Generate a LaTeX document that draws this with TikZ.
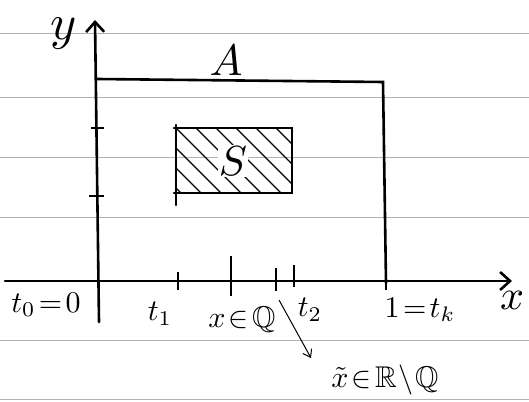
\documentclass[tikz,border=0pt]{standalone}
\usepackage{amssymb}
\usetikzlibrary{arrows.meta}
\begin{document}
\begin{tikzpicture}[x=1pt,y=-1pt,
  rule/.style={gray!60,line width=0.8pt},
  pen/.style={black,line width=2.6pt,line cap=round},
  axis/.style={pen,-{Straight Barb[length=10pt,width=18pt]}},
  tickmark/.style={black,line width=2.6pt},
  hatch/.style={black,line width=1.1pt},
  lbl/.style={scale=3,inner sep=0pt}]
\useasboundingbox (0,0) rectangle (529,401);
% ruled paper lines
\foreach \yy in {33,97,157,217,340,399}
  \draw[rule] (0,\yy) -- (529,\yy);
% axes
\coordinate (xs) at (5,281);
\coordinate (xe) at (512,281);
\coordinate (ys) at (99,322);
\coordinate (ye) at (95,20);
\draw[axis] (xs) -- (xe);
\draw[axis] (ys) -- (ye);
\node[scale=5,inner sep=0pt] (ylab) at (64,34) {$y$};
\node[scale=4.2,inner sep=0pt] (xlab) at (512,300) {$x$};
% big rectangle A
\coordinate (a1) at (97,79);
\coordinate (a2) at (383,82);
\coordinate (a3) at (386,283);
\draw[pen] (a1) -- (a2) -- (a3);
\node[scale=4.4,inner sep=0pt] (Alab) at (226,60) {$A$};
% y ticks
\draw[tickmark] (91,128) -- (104,128);
\draw[tickmark] (89,196) -- (104,196);
% small rectangle S
\coordinate (s1) at (176,128);
\coordinate (s2) at (292,193);
\begin{scope}
\clip (s1) rectangle (s2);
\foreach \k in {-60,-40,...,120}
  \draw[hatch] (176+\k,128) -- ++(70,70);
\end{scope}
\draw[pen] (176,125) -- (176,205);
\draw[pen] (174,128) -- (292,128) -- (292,193) -- (174,193);
\node[scale=4.2,fill=white,inner sep=0.3pt] (Slab) at (233,161) {$S$};
% x ticks
\draw[tickmark] (178,272) -- (178,290);
\draw[tickmark] (231,256) -- (231,296);
\draw[tickmark] (276,268) -- (276,291);
\draw[tickmark] (294,265) -- (294,287);
\draw[tickmark] (386,276) -- (386,290);
% labels
\node[lbl] (t0) at (46,305) {$t_0\!=\!0$};
\node[lbl] (t1) at (160,314) {$t_1$};
\node[lbl] (xq) at (242,320) {$x\!\in\!\mathbb{Q}$};
\node[lbl] (t2) at (310,310) {$t_2$};
\node[lbl] (tk) at (420,310) {$1\!=\!t_k$};
\node[lbl] (xt) at (385,380) {$\tilde{x}\!\in\!\mathbb{R}\!\setminus\!\mathbb{Q}$};
\coordinate (ps) at (279,300);
\coordinate (pe) at (311,358);
\draw[black,line width=1pt,-{Straight Barb[length=7pt,width=10pt]}] (ps) -- (pe);
\end{tikzpicture}
\end{document}
